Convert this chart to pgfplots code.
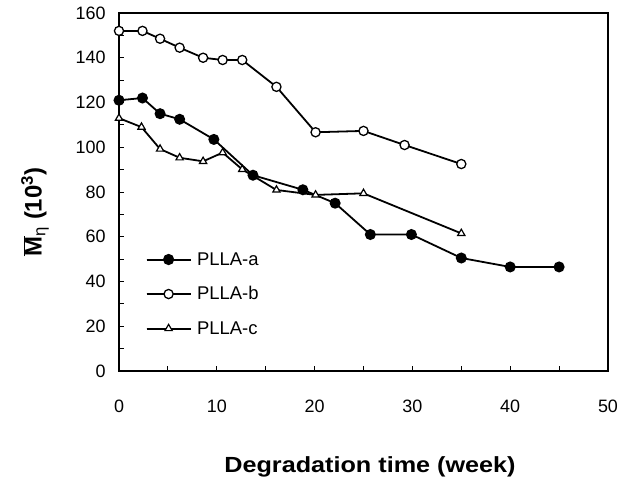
\documentclass[border=0pt]{standalone}
\usepackage{pgfplots}
\pgfplotsset{compat=1.18}
\usepackage{fontspec}
\setmainfont{Liberation Sans}

% Molecular weight of the three PLLA samples versus degradation time
\pgfplotstableread{
t    m
0    121
2.4  122
4.2  115
6.2  112.5
9.7  103.5
13.7 87.5
18.8 81
22.1 75
25.7 61
29.9 61
35   50.5
40   46.5
45   46.5
}\plla

\pgfplotstableread{
t    m
0    152
2.4  152
4.2  148.5
6.2  144.5
8.6  140
10.6 139
12.6 139
16.1 127
20.1 106.7
25   107.3
29.2 101
35   92.5
}\pllb

\pgfplotstableread{
t    m
0    113
2.3  109
4.2  99.2
6.2  95.3
8.6  93.7
10.6 97.6
12.6 90.1
16.1 80.9
20.1 78.7
25   79.4
35   61.5
}\pllc

\begin{document}
\begin{tikzpicture}
\useasboundingbox (-119bp,-107bp) rectangle (499bp,371bp);
\begin{axis}[
  at={(0,0)}, anchor=south west,
  scale only axis,
  width=489bp, height=358bp,
  xmin=0, xmax=50, ymin=0, ymax=160,
  xtick={0,10,...,50}, minor xtick={5,15,...,45},
  ytick={0,20,...,160}, minor ytick={10,30,...,150},
  tick align=inside,
  xtick pos=bottom, ytick pos=left,
  major tick length=5bp, minor tick length=5bp,
  tick style={black, line width=0.9pt},
  axis line style={line width=1.8pt},
  /pgf/number format/assume math mode=true,
  xticklabel={\fontsize{18}{20}\selectfont\pgfmathprintnumber{\tick}},
  yticklabel={\fontsize{18}{20}\selectfont\pgfmathprintnumber{\tick}},
  xticklabel style={yshift=-25bp},
  yticklabel style={xshift=-10bp},
  clip=false,
  legend cell align=left,
  legend style={draw=none, fill=none, at={(rel axis cs:0.054,0.215)}, anchor=west,
    font=\fontsize{18.5}{21}\selectfont, row sep=20bp, inner sep=0pt,
    nodes={inner xsep=5.5bp, inner ysep=0pt}},
  every legend image post/.style={line width=2pt},
  legend image code/.code={
    \draw[line width=2pt] (0bp,0bp) -- (44bp,0bp);
    \draw[mark repeat=2, mark phase=2]
      plot coordinates {(0bp,0bp) (22bp,0bp) (44bp,0bp)};},
]
\addplot[black, line width=1.8pt, mark=*, mark size=4.6pt, mark options={fill=black}] table[x=t,y=m] {\plla};
\addlegendentry{PLLA-a}
\addplot[black, line width=1.8pt, mark=*, mark size=4.6pt, mark options={fill=white, line width=1.3pt}] table[x=t,y=m] {\pllb};
\addlegendentry{PLLA-b}
\addplot[black, line width=1.8pt, mark=triangle*, mark size=4.2pt, mark options={fill=white, line width=1.2pt}] table[x=t,y=m] {\pllc};
\addlegendentry{PLLA-c}
\end{axis}
\node[rotate=90, font=\bfseries\fontsize{24}{28}\selectfont] at (-84bp,159bp)
  {$\overline{\hbox{\bfseries M}}$\textsubscript{\mdseries η} (10\textsuperscript{3})};
\node[anchor=base, font=\bfseries\fontsize{22}{26}\selectfont] at (251bp,-101bp)
  {\scalebox{1.15}[1]{Degradation time (week)}};
\end{tikzpicture}
\end{document}
